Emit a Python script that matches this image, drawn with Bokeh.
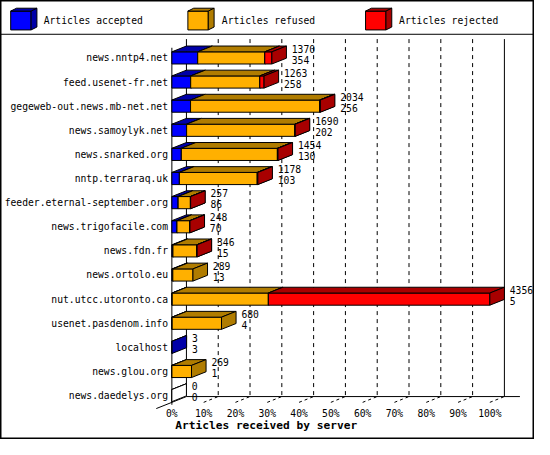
from bokeh.plotting import figure
from bokeh.models import Range1d, ColumnDataSource
from bokeh.core.properties import value
from bokeh.embed import file_html
from bokeh.resources import INLINE

# ---------------- data ----------------
servers = ["news.nntp4.net", "feed.usenet-fr.net", "gegeweb-out.news.mb-net.net",
           "news.samoylyk.net", "news.snarked.org", "nntp.terraraq.uk",
           "feeder.eternal-september.org", "news.trigofacile.com", "news.fdn.fr",
           "news.ortolo.eu", "nut.utcc.utoronto.ca", "usenet.pasdenom.info",
           "localhost", "news.glou.org", "news.daedelys.org"]
accepted = [354, 258, 256, 202, 130, 103, 86, 70, 15, 13, 5, 4, 3, 1, 0]
refused = [919, 947, 1768, 1483, 1316, 1067, 168, 175, 327, 276, 1317, 676, 0, 268, 0]
rejected = [97, 58, 10, 5, 8, 8, 3, 3, 4, 0, 3034, 0, 0, 0, 0]
series_names = ["Articles accepted", "Articles refused", "Articles rejected"]
front_colors = ["#0000ff", "#ffb000", "#ff0000"]
shade_colors = ["#0000a8", "#b07c00", "#a80000"]
pct_labels = ["0%", "10%", "20%", "30%", "40%", "50%", "60%", "70%", "80%", "90%", "100%"]
x_title = "Articles received by server"

# ---------------- layout (reference pixel geometry) ----------------
REF_W, REF_H = 550.0, 455.0
X0_PX, X100_PX = 176.5, 504.0
ROW0_PX, ROW_STEP = 59.5, 25.0
BAR_HALF_PX = 6.3
DEPTH_X_PX, DEPTH_Y_PX = 15.0, -6.0

series = [accepted, refused, rejected]
totals = [sum(v) for v in zip(*series)]
xmax = float(max(totals))


def X(px):
    return (px - X0_PX) / (X100_PX - X0_PX) * xmax


def Y(py):
    return (py - ROW0_PX) / ROW_STEP


def DX(px):
    return px / (X100_PX - X0_PX) * xmax


def DY(py):
    return py / ROW_STEP


dxd, dyd = DX(DEPTH_X_PX), DY(DEPTH_Y_PX)
hh = DY(BAR_HALF_PX)

FONT = value("DejaVu Sans Mono")
FS = value("9.7px")

p = figure(width=534, height=439, output_backend="svg", toolbar_location=None,
           x_range=Range1d(X(0), X(REF_W)), y_range=Range1d(Y(REF_H), Y(0)),
           x_axis_location=None, y_axis_location=None, min_border=0,
           background_fill_color="white", border_fill_color="white")
p.grid.visible = False
p.outline_line_color = "black"
p.outline_line_width = 2

# ---------------- walls / grid ----------------
gx0, gx1, gy0, gy1 = [], [], [], []
for k in range(1, 10):
    gx = k * xmax / 10 + dxd
    gx0.append(gx); gx1.append(gx); gy0.append(Y(40)); gy1.append(Y(410.5))
p.segment(gx0, gy0, gx1, gy1, line_color="black", line_width=1, line_dash="4 4")

fx0, fx1, fy0, fy1 = [], [], [], []
for k in range(1, 11):
    fx = k * xmax / 10
    fx0.append(fx); fx1.append(fx + dxd); fy0.append(Y(416.5)); fy1.append(Y(410.5))
p.segment(fx0, fy0, fx1, fy1, line_color="black", line_width=1, line_dash="3 3")

wall_x0 = [dxd, xmax + dxd, dxd, -1.07 * dxd, 0, X(0)]
wall_x1 = [dxd, xmax + dxd, X(535), dxd, 0, X(REF_W)]
wall_y0 = [Y(40), Y(40), Y(410.5), Y(416.5) - 1.07 * dyd, Y(49), Y(35)]
wall_y1 = [Y(410.5), Y(410.5), Y(410.5), Y(410.5), Y(419), Y(35)]
p.segment(wall_x0, wall_y0, wall_x1, wall_y1, line_color="black", line_width=1)

# ---------------- 3D boxes ----------------
xs, ys, fills = [], [], []


def add_box(x0, x1, y0, y1, ddx, ddy, front, shade):
    xs.append([x0, x1, x1, x0]); ys.append([y0, y0, y1, y1]); fills.append(front)
    xs.append([x0, x1, x1 + ddx, x0 + ddx]); ys.append([y0, y0, y0 + ddy, y0 + ddy]); fills.append(shade)
    xs.append([x1, x1 + ddx, x1 + ddx, x1]); ys.append([y0, y0 + ddy, y1 + ddy, y1]); fills.append(shade)


for i in range(len(servers)):
    left = 0.0
    if totals[i] == 0:
        add_box(0.0, 0.0, i - hh, i + hh, dxd, dyd, "white", "white")
        continue
    for s in range(3):
        v = series[s][i]
        if v <= 0:
            continue
        add_box(left, left + v, i - hh, i + hh, dxd, dyd, front_colors[s], shade_colors[s])
        left += v

# legend cubes
legend_cube_px = [10.5, 193.0, 376.0]
for s in range(3):
    add_box(X(legend_cube_px[s]), X(legend_cube_px[s] + 21), Y(11), Y(30.5),
            DX(6), DY(-3), front_colors[s], shade_colors[s])

p.patches("xs", "ys", source=ColumnDataSource(dict(xs=xs, ys=ys, fill=fills)),
          fill_color="fill", line_color="black", line_width=1)

# ---------------- texts ----------------
rows = list(range(len(servers)))
p.text(x=[X(172.5)] * len(servers), y=rows, text=servers, text_font=FONT, text_font_size=FS,
       text_align="right", text_baseline="middle", text_color="black")

lab_x = [t + dxd + DX(5.5) for t in totals]
p.text(x=lab_x, y=[r + DY(-9.6) for r in rows], text=[str(t) for t in totals],
       text_font=FONT, text_font_size=FS, text_align="left", text_baseline="middle")
p.text(x=lab_x, y=[r + DY(1.8) for r in rows], text=[str(a) for a in accepted],
       text_font=FONT, text_font_size=FS, text_align="left", text_baseline="middle")

p.text(x=[k * xmax / 10 for k in range(len(pct_labels))], y=[Y(428)] * len(pct_labels),
       text=pct_labels, text_font=FONT, text_font_size=FS, text_align="center",
       text_baseline="middle")

p.text(x=[X(180)], y=[Y(441)], text=[x_title], text_font=FONT, text_font_size=value("11.2px"),
       text_font_style="bold", text_align="left", text_baseline="middle")

legend_text_px = [44.5, 228.0, 410.5]
p.text(x=[X(v) for v in legend_text_px], y=[Y(20.5)] * 3, text=series_names,
       text_font=FONT, text_font_size=FS, text_align="left", text_baseline="middle")

open("out.html", "w").write(file_html(p, INLINE))
